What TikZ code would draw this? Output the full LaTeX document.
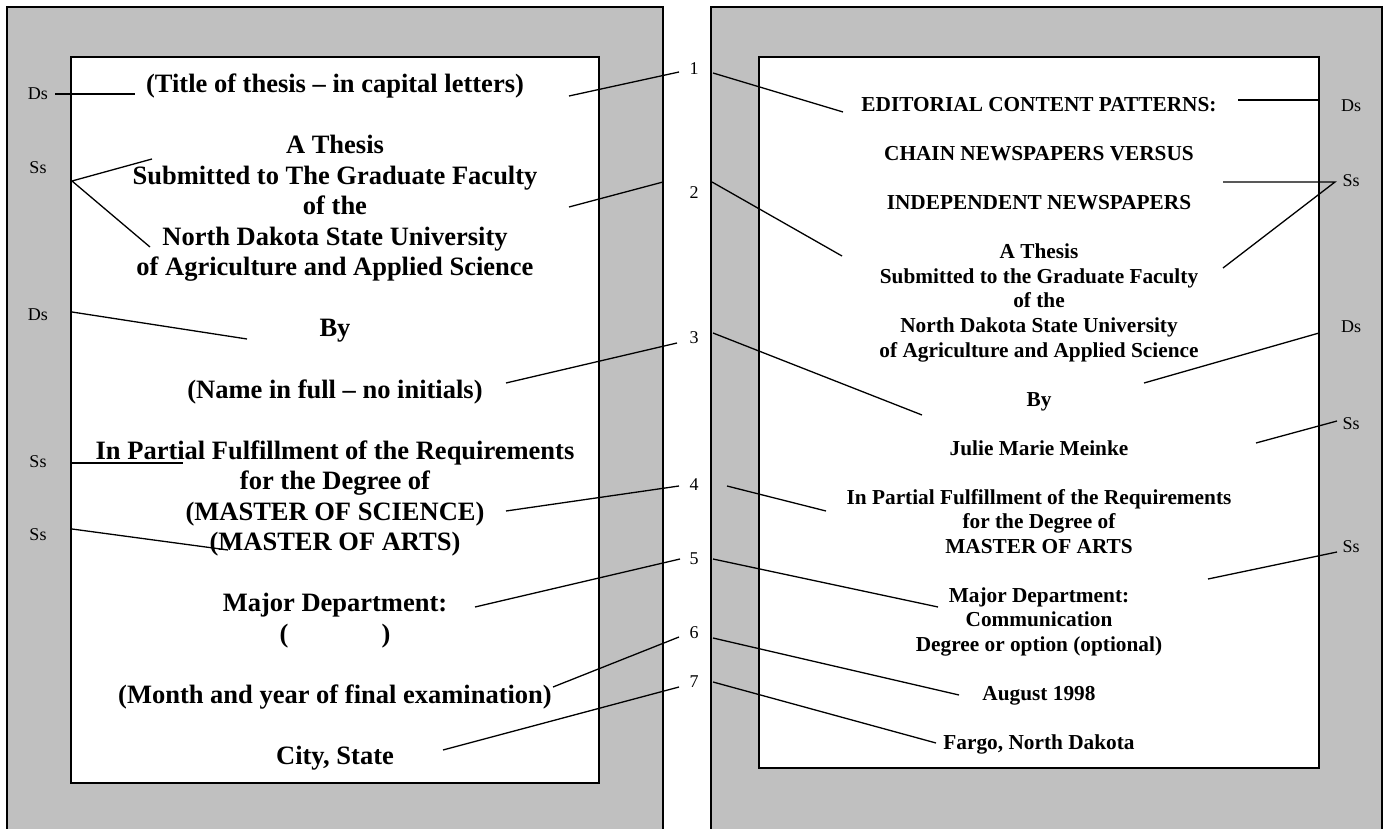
\documentclass[tikz,border=0pt]{standalone}
\usepackage{fontspec}
\setmainfont{Liberation Serif}
\definecolor{panelgray}{RGB}{192,192,192}
\begin{document}
\begin{tikzpicture}[x=1pt,y=-1pt,
  lead/.style={line width=1.3pt},
  frame/.style={line width=1.5pt},
  ltxt/.style={anchor=base,inner sep=0pt,font=\fontsize{26.5}{30.5}\selectfont\bfseries},
  rtxt/.style={anchor=base,inner sep=0pt,font=\fontsize{21.3}{24.5}\selectfont\bfseries},
  tag/.style={inner sep=0pt,font=\fontsize{18}{20}\selectfont}]
\useasboundingbox (0,0) rectangle (1385,829);
\clip (0,0) rectangle (1385,829);
% panels
\draw[frame,fill=panelgray] (7,7) rectangle (663,850);
\draw[frame,fill=panelgray] (711,7) rectangle (1382,850);
\draw[frame,fill=white] (71,57) rectangle (599,783);
\draw[frame,fill=white] (759,57) rectangle (1319,768);
% left page text
\node[ltxt] (L0) at (335,93) {(Title of thesis -- in capital letters)};
\node[ltxt] (L2) at (335,154) {A Thesis};
\node[ltxt] (L3) at (335,184.5) {Submitted to The Graduate Faculty};
\node[ltxt] (L4) at (335,215) {of the};
\node[ltxt] (L5) at (335,245.5) {North Dakota State University};
\node[ltxt] (L6) at (335,276) {of Agriculture and Applied Science};
\node[ltxt] (L8) at (335,337) {By};
\node[ltxt] (L10) at (335,398) {(Name in full -- no initials)};
\node[ltxt] (L12) at (335,459) {In Partial Fulfillment of the Requirements};
\node[ltxt] (L13) at (335,489.5) {for the Degree of};
\node[ltxt] (L14) at (335,520) {(MASTER OF SCIENCE)};
\node[ltxt] (L15) at (335,550.5) {(MASTER OF ARTS)};
\node[ltxt] (L17) at (335,611.5) {Major Department:};
\node[ltxt] (L18) at (335,642) {(\hspace{93pt})};
\node[ltxt] (L20) at (335,703) {(Month and year of final examination)};
\node[ltxt] (L22) at (335,764) {City, State};
% right page text
\node[rtxt] (R0) at (1039,112) {EDITORIAL CONTENT PATTERNS:};
\node[rtxt] (R2) at (1039,161) {CHAIN NEWSPAPERS VERSUS};
\node[rtxt] (R4) at (1039,210) {INDEPENDENT NEWSPAPERS};
\node[rtxt] (R6) at (1039,259) {A Thesis};
\node[rtxt] (R7) at (1039,283.5) {Submitted to the Graduate Faculty};
\node[rtxt] (R8) at (1039,308) {of the};
\node[rtxt] (R9) at (1039,332.5) {North Dakota State University};
\node[rtxt] (R10) at (1039,357) {of Agriculture and Applied Science};
\node[rtxt] (R12) at (1039,406) {By};
\node[rtxt] (R14) at (1039,455) {Julie Marie Meinke};
\node[rtxt] (R16) at (1039,504) {In Partial Fulfillment of the Requirements};
\node[rtxt] (R17) at (1039,528.5) {for the Degree of};
\node[rtxt] (R18) at (1039,553) {MASTER OF ARTS};
\node[rtxt] (R20) at (1039,602) {Major Department:};
\node[rtxt] (R21) at (1039,626.5) {Communication};
\node[rtxt] (R22) at (1039,651) {Degree or option (optional)};
\node[rtxt] (R24) at (1039,700) {August 1998};
\node[rtxt] (R26) at (1039,749) {Fargo, North Dakota};
% margin tags
\node[tag] (tl1) at (38,94) {Ds};
\node[tag] (tl2) at (38,168) {Ss};
\node[tag] (tl3) at (38,315) {Ds};
\node[tag] (tl4) at (38,462) {Ss};
\node[tag] (tl5) at (38,535) {Ss};
\node[tag] (tr1) at (1351,106) {Ds};
\node[tag] (tr2) at (1351,181) {Ss};
\node[tag] (tr3) at (1351,327) {Ds};
\node[tag] (tr4) at (1351,424) {Ss};
\node[tag] (tr5) at (1351,547) {Ss};
% numbers
\node[tag] (n1) at (694,69) {1};
\node[tag] (n2) at (694,193) {2};
\node[tag] (n3) at (694,338) {3};
\node[tag] (n4) at (694,485) {4};
\node[tag] (n5) at (694,559) {5};
\node[tag] (n6) at (694,633) {6};
\node[tag] (n7) at (694,682) {7};
% leader end points
\coordinate (a1) at (55,94);   \coordinate (a2) at (135,94);
\coordinate (b0) at (72,181);  \coordinate (b1) at (152,159); \coordinate (b2) at (150,247);
\coordinate (c1) at (72,312);  \coordinate (c2) at (247,339);
\coordinate (d1) at (72,463);  \coordinate (d2) at (183,463);
\coordinate (e1) at (72,529);  \coordinate (e2) at (228,550);
\coordinate (p1s) at (569,96);  \coordinate (p1e) at (679,72);
\coordinate (p2s) at (569,207); \coordinate (p2e) at (663,182);
\coordinate (p3s) at (506,383); \coordinate (p3e) at (677,343);
\coordinate (p4s) at (506,511); \coordinate (p4e) at (679,486);
\coordinate (p5s) at (475,607); \coordinate (p5e) at (680,559);
\coordinate (p6s) at (553,687); \coordinate (p6e) at (679,637);
\coordinate (p7s) at (443,750); \coordinate (p7e) at (679,687);
\coordinate (q1s) at (713,73);  \coordinate (q1e) at (843,112);
\coordinate (q2s) at (712,182); \coordinate (q2e) at (842,256);
\coordinate (q3s) at (713,333); \coordinate (q3e) at (922,415);
\coordinate (q4s) at (727,486); \coordinate (q4e) at (826,511);
\coordinate (q5s) at (713,559); \coordinate (q5e) at (938,607);
\coordinate (q6s) at (713,638); \coordinate (q6e) at (959,695);
\coordinate (q7s) at (713,682); \coordinate (q7e) at (936,743);
\coordinate (r1) at (1238,100); \coordinate (r2) at (1319,100);
\coordinate (s0) at (1335,182); \coordinate (s1) at (1223,182); \coordinate (s2) at (1223,268);
\coordinate (t1) at (1319,333); \coordinate (t2) at (1144,383);
\coordinate (u1) at (1337,421); \coordinate (u2) at (1256,443);
\coordinate (v1) at (1337,552); \coordinate (v2) at (1208,579);
% leaders
\draw[lead] (a1) -- (a2);
\draw[lead] (b1) -- (b0) -- (b2);
\draw[lead] (c1) -- (c2);
\draw[lead] (d1) -- (d2);
\draw[lead] (e1) -- (e2);
\foreach \i in {1,...,7} {
  \draw[lead] (p\i s) -- (p\i e);
  \draw[lead] (q\i s) -- (q\i e);
}
\draw[lead] (r1) -- (r2);
\draw[lead] (s1) -- (s0) -- (s2);
\draw[lead] (t1) -- (t2);
\draw[lead] (u1) -- (u2);
\draw[lead] (v1) -- (v2);
\end{tikzpicture}
\end{document}
